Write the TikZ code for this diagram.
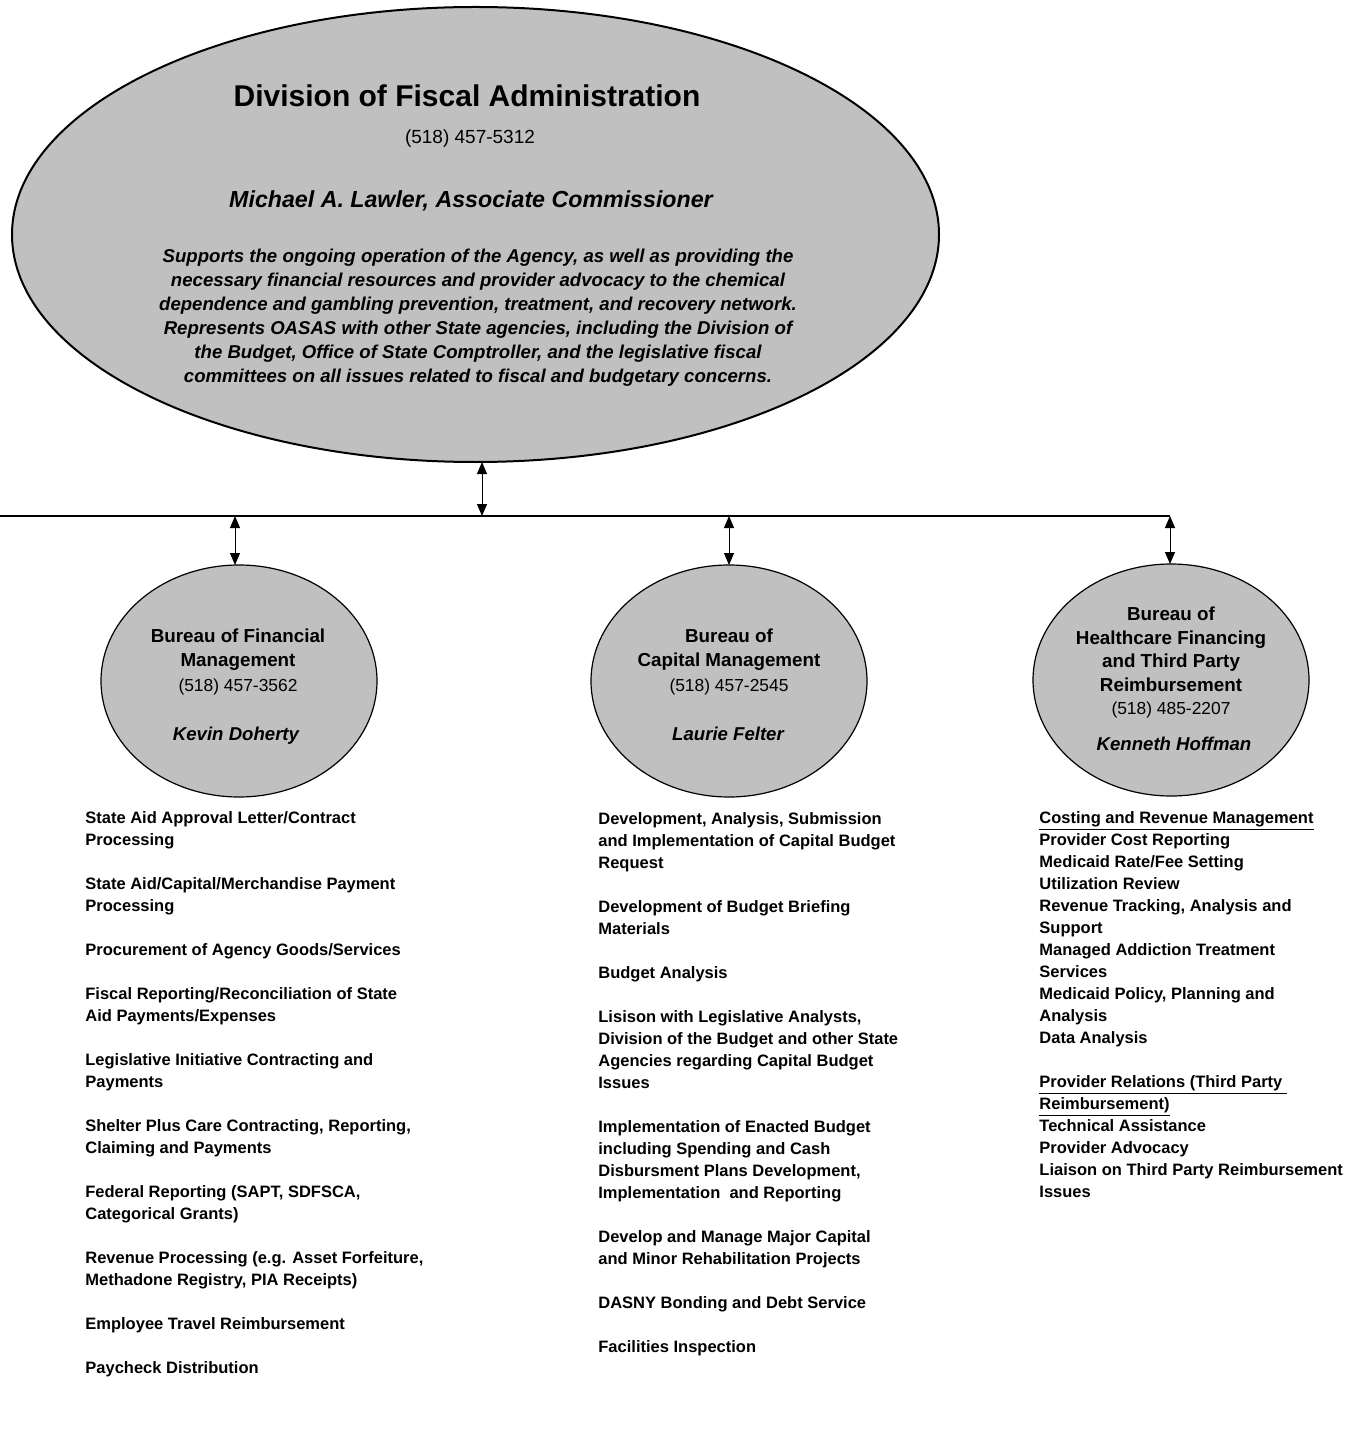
\documentclass[tikz,border=0pt]{standalone}
\usepackage{fontspec}
\setmainfont{Liberation Sans}
\usetikzlibrary{shapes.geometric,arrows.meta}
\definecolor{silver}{HTML}{C0C0C0}

\begin{document}
\begin{tikzpicture}[x=0.5pt,y=-0.5pt,
	unit/.style={ellipse,draw=black,fill=silver,inner sep=0pt,outer sep=0pt},
	link/.style={{Triangle[length=6pt,width=5pt]}-{Triangle[length=6pt,width=5pt]},line width=0.5pt},
	duty/.style={anchor=base west,align=left,inner sep=0pt,font=\bfseries\fontsize{8.25}{11}\selectfont},
	head/.style={anchor=base,align=center,inner sep=0pt,font=\bfseries\fontsize{9.4}{11.75}\selectfont},
	phone/.style={anchor=base,inner sep=0pt,font=\fontsize{8.7}{10}\selectfont},
	chief/.style={anchor=base,inner sep=0pt,font=\bfseries\itshape\fontsize{9.3}{11}\selectfont}]
	\useasboundingbox (0,0) rectangle (1358,1443);
	% division
	\node[unit,line width=1pt,minimum width=463.5pt,minimum height=227.5pt] (dfa) at (475.5,234.5) {};
	\node[anchor=base,inner sep=0pt,font=\bfseries\fontsize{15}{18}\selectfont] (dfatitle) at (467,107) {Division of Fiscal Administration};
	\node[anchor=base,inner sep=0pt,font=\fontsize{9.5}{12}\selectfont] (dfaphone) at (470,144) {(518) 457-5312};
	\node[anchor=base,inner sep=0pt,font=\bfseries\itshape\fontsize{11.6}{14}\selectfont] (dfachief) at (471,208) {Michael A. Lawler, Associate Commissioner};
	\node[anchor=base,align=center,inner sep=0pt,font=\bfseries\itshape\fontsize{9.3}{12}\selectfont] (dfatext) at (478,383)
	{Supports the ongoing operation of the Agency, as well as providing the\\
	necessary financial resources and provider advocacy to the chemical\\
	dependence and gambling prevention, treatment, and recovery network.\\
	Represents OASAS with other State agencies, including the Division of\\
	the Budget, Office of State Comptroller, and the legislative fiscal\\
	committees on all issues related to fiscal and budgetary concerns.};
	% bus line
	\coordinate (busl) at (0,516);
	\coordinate (busr) at (1170,516);
	\coordinate (jc) at (482,516);
	\coordinate (jf) at (235,516);
	\coordinate (jm) at (729,516);
	\draw[line width=0.6pt] (busl) -- (busr);
	% bureaus
	\node[unit,line width=0.6pt,minimum width=138pt,minimum height=116pt] (bfm) at (239,681) {};
	\node[unit,line width=0.6pt,minimum width=138pt,minimum height=116pt] (bcm) at (729,681) {};
	\node[unit,line width=0.6pt,minimum width=138pt,minimum height=116pt] (bhf) at (1171,680) {};
	\draw[link] (dfa.south -| jc) -- (jc);
	\draw[link] (jf) -- (jf |- bfm.north);
	\draw[link] (jm) -- (jm |- bcm.north);
	\draw[link] (busr) -- (busr |- bhf.north);
	\node[head] (bfmhead) at (238,666) {Bureau of Financial\\Management};
	\node[phone] (bfmphone) at (238,691) {(518) 457-3562};
	\node[chief] (bfmchief) at (236,740) {Kevin Doherty};
	\node[head] (bcmhead) at (729,666) {Bureau of\\Capital Management};
	\node[phone] (bcmphone) at (729,691) {(518) 457-2545};
	\node[chief] (bcmchief) at (728,740) {Laurie Felter};
	\node[head] (bhfhead) at (1171,691) {Bureau of\\Healthcare Financing\\and Third Party\\Reimbursement};
	\node[phone] (bhfphone) at (1171,714) {(518) 485-2207};
	\node[chief] (bhfchief) at (1174,750) {Kenneth Hoffman};
	% duties
	\node[duty] (bfmlist) at (85,1373)
	{State Aid Approval Letter/Contract\\Processing\\[11pt]
	State Aid/Capital/Merchandise Payment\\Processing\\[11pt]
	Procurement of Agency Goods/Services\\[11pt]
	Fiscal Reporting/Reconciliation of State\\Aid Payments/Expenses\\[11pt]
	Legislative Initiative Contracting and\\Payments\\[11pt]
	Shelter Plus Care Contracting, Reporting,\\Claiming and Payments\\[11pt]
	Federal Reporting (SAPT, SDFSCA,\\Categorical Grants)\\[11pt]
	Revenue Processing (e.g. Asset Forfeiture,\\Methadone Registry, PIA Receipts)\\[11pt]
	Employee Travel Reimbursement\\[11pt]
	Paycheck Distribution};
	\node[duty] (bcmlist) at (598,1352)
	{Development, Analysis, Submission\\and Implementation of Capital Budget\\Request\\[11pt]
	Development of Budget Briefing\\Materials\\[11pt]
	Budget Analysis\\[11pt]
	Lisison with Legislative Analysts,\\Division of the Budget and other State\\Agencies regarding Capital Budget\\Issues\\[11pt]
	Implementation of Enacted Budget\\including Spending and Cash\\Disbursment Plans Development,\\Implementation\ \ and Reporting\\[11pt]
	Develop and Manage Major Capital\\and Minor Rehabilitation Projects\\[11pt]
	DASNY Bonding and Debt Service\\[11pt]
	Facilities Inspection};
	\node[duty] (bhflist) at (1039,1197)
	{\underline{Costing and Revenue Management}\\
	Provider Cost Reporting\\
	Medicaid Rate/Fee Setting\\
	Utilization Review\\
	Revenue Tracking, Analysis and\\Support\\
	Managed Addiction Treatment\\Services\\
	Medicaid Policy, Planning and\\Analysis\\
	Data Analysis\\[11pt]
	\underline{Provider Relations (Third Party\ }\\
	\underline{Reimbursement)}\\
	Technical Assistance\\
	Provider Advocacy\\
	Liaison on Third Party Reimbursement\\Issues};
\end{tikzpicture}
\end{document}
